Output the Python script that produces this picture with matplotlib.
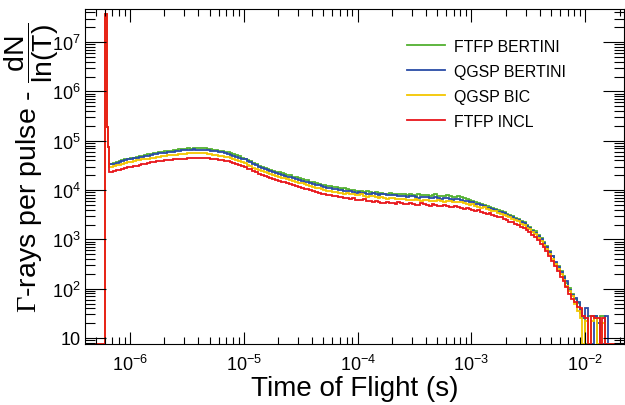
import numpy as np
import matplotlib
matplotlib.use("Agg")
import matplotlib.pyplot as plt
from matplotlib.ticker import LogLocator, FuncFormatter, NullFormatter

plt.rcParams['font.family'] = ['Liberation Sans', 'DejaVu Sans']
plt.rcParams['mathtext.fontset'] = 'custom'
plt.rcParams['mathtext.rm'] = 'Liberation Sans'
plt.rcParams['mathtext.it'] = 'Liberation Sans:italic'
plt.rcParams['mathtext.bf'] = 'Liberation Serif'

# log10 of the bin edges (seconds): a few narrow bins around the flash, then 40 bins/decade
lead_edges = [-6.45, -6.215, -6.205, -6.195, -6.18]
tail_edge = [-1.2]

labels = ['FTFP BERTINI', 'QGSP BERTINI', 'QGSP BIC', 'FTFP INCL']
colors = ['#52b030', '#2a4ca6', '#f3c600', '#e8161b']

# log10 of the counts per bin, 0 = empty bin
green_lg = [0, 7.57, 5.28, 4.87, 4.53,
    4.55, 4.57, 4.59, 4.61, 4.62, 4.64, 4.65, 4.66, 4.68, 4.69, 4.70, 4.72, 4.73, 4.74, 4.75, 4.76, 4.77, 4.78, 4.79, 4.80,
    4.80, 4.81, 4.82, 4.83, 4.83, 4.84, 4.85, 4.84, 4.86, 4.85, 4.86, 4.85, 4.85, 4.84, 4.83, 4.82, 4.82, 4.80, 4.79, 4.78,
    4.77, 4.75, 4.73, 4.71, 4.69, 4.66, 4.64, 4.61, 4.58, 4.55, 4.52, 4.49, 4.47, 4.45, 4.43, 4.41, 4.39, 4.37, 4.36, 4.34,
    4.33, 4.31, 4.30, 4.27, 4.26, 4.24, 4.23, 4.21, 4.20, 4.17, 4.16, 4.14, 4.13, 4.11, 4.10, 4.09, 4.08, 4.06, 4.06, 4.04,
    4.03, 4.04, 4.02, 4.00, 4.01, 3.99, 3.98, 3.99, 3.97, 3.98, 3.97, 3.95, 3.96, 3.94, 3.95, 3.93, 3.93, 3.94, 3.92, 3.93,
    3.91, 3.93, 3.92, 3.90, 3.91, 3.90, 3.88, 3.91, 3.90, 3.89, 3.90, 3.88, 3.89, 3.91, 3.88, 3.87, 3.87, 3.89, 3.88, 3.86,
    3.86, 3.87, 3.85, 3.83, 3.82, 3.80, 3.78, 3.76, 3.74, 3.72, 3.70, 3.67, 3.66, 3.64, 3.62, 3.59, 3.57, 3.55, 3.52, 3.49,
    3.47, 3.44, 3.42, 3.37, 3.35, 3.30, 3.26, 3.19, 3.16, 3.09, 3.03, 2.94, 2.87, 2.76, 2.66, 2.52, 2.46, 2.36, 2.25, 2.12,
    2.02, 1.90, 1.80, 1.70, 1.58, 1.45, 0, 1.45, 1.45, 1.45, 0, 1.45, 1.45, 0, 0, 0,
    0]
blue_lg = [0, 7.57, 5.28, 4.87, 4.52,
    4.53, 4.55, 4.57, 4.59, 4.60, 4.62, 4.63, 4.65, 4.66, 4.67, 4.68, 4.70, 4.70, 4.72, 4.73, 4.74, 4.75, 4.76, 4.76, 4.77,
    4.78, 4.78, 4.79, 4.80, 4.81, 4.81, 4.82, 4.82, 4.83, 4.82, 4.82, 4.81, 4.81, 4.81, 4.80, 4.79, 4.79, 4.77, 4.77, 4.75,
    4.74, 4.72, 4.70, 4.68, 4.66, 4.64, 4.62, 4.58, 4.56, 4.52, 4.50, 4.46, 4.44, 4.42, 4.40, 4.38, 4.36, 4.34, 4.32, 4.30,
    4.29, 4.27, 4.26, 4.24, 4.23, 4.21, 4.19, 4.17, 4.16, 4.14, 4.13, 4.11, 4.10, 4.08, 4.07, 4.05, 4.05, 4.03, 4.03, 4.01,
    4.01, 3.99, 3.99, 3.98, 3.97, 3.95, 3.96, 3.95, 3.94, 3.93, 3.93, 3.94, 3.92, 3.90, 3.91, 3.92, 3.90, 3.89, 3.89, 3.90,
    3.88, 3.87, 3.87, 3.85, 3.88, 3.87, 3.86, 3.84, 3.85, 3.86, 3.85, 3.83, 3.84, 3.85, 3.83, 3.82, 3.84, 3.83, 3.82, 3.80,
    3.82, 3.81, 3.79, 3.77, 3.78, 3.76, 3.75, 3.72, 3.72, 3.70, 3.67, 3.64, 3.64, 3.61, 3.59, 3.56, 3.56, 3.53, 3.50, 3.47,
    3.46, 3.42, 3.40, 3.36, 3.33, 3.27, 3.24, 3.17, 3.13, 3.06, 3.00, 2.92, 2.85, 2.74, 2.66, 2.54, 2.44, 2.33, 2.24, 2.15,
    1.97, 1.88, 1.82, 1.72, 1.50, 1.40, 1.60, 0, 0, 1.45, 1.30, 0, 0, 1.45, 0, 0,
    0]
yellow_lg = [0, 7.57, 5.28, 4.87, 4.47,
    4.48, 4.50, 4.51, 4.53, 4.54, 4.56, 4.57, 4.59, 4.60, 4.61, 4.62, 4.64, 4.64, 4.66, 4.66, 4.68, 4.68, 4.70, 4.70, 4.71,
    4.71, 4.72, 4.72, 4.73, 4.74, 4.74, 4.75, 4.75, 4.75, 4.76, 4.75, 4.75, 4.75, 4.74, 4.73, 4.72, 4.72, 4.70, 4.70, 4.68,
    4.67, 4.65, 4.63, 4.61, 4.59, 4.57, 4.55, 4.51, 4.49, 4.45, 4.43, 4.41, 4.38, 4.36, 4.34, 4.32, 4.30, 4.28, 4.27, 4.25,
    4.24, 4.22, 4.21, 4.19, 4.17, 4.15, 4.14, 4.12, 4.11, 4.09, 4.07, 4.05, 4.04, 4.02, 4.01, 3.99, 3.99, 3.97, 3.97, 3.95,
    3.95, 3.93, 3.94, 3.92, 3.91, 3.90, 3.89, 3.91, 3.88, 3.86, 3.87, 3.87, 3.86, 3.84, 3.85, 3.84, 3.82, 3.83, 3.83, 3.82,
    3.81, 3.82, 3.82, 3.80, 3.79, 3.80, 3.81, 3.79, 3.78, 3.79, 3.80, 3.78, 3.77, 3.78, 3.79, 3.77, 3.76, 3.77, 3.78, 3.76,
    3.76, 3.75, 3.75, 3.73, 3.72, 3.70, 3.71, 3.68, 3.66, 3.64, 3.65, 3.62, 3.59, 3.57, 3.57, 3.54, 3.51, 3.49, 3.48, 3.45,
    3.42, 3.39, 3.37, 3.32, 3.29, 3.24, 3.21, 3.14, 3.10, 3.03, 2.97, 2.89, 2.80, 2.70, 2.60, 2.50, 2.40, 2.30, 2.18, 2.06,
    1.95, 1.85, 1.68, 1.55, 1.40, 0, 1.35, 0, 1.35, 1.40, 0, 0, 1.30, 0, 0, 0,
    0]
red_lg = [0, 7.57, 5.28, 4.87, 4.37,
    4.38, 4.40, 4.41, 4.43, 4.44, 4.46, 4.47, 4.49, 4.49, 4.51, 4.52, 4.53, 4.54, 4.56, 4.56, 4.58, 4.58, 4.59, 4.60, 4.61,
    4.61, 4.62, 4.62, 4.63, 4.64, 4.64, 4.65, 4.65, 4.66, 4.66, 4.66, 4.65, 4.65, 4.65, 4.64, 4.63, 4.63, 4.61, 4.61, 4.59,
    4.58, 4.56, 4.55, 4.53, 4.51, 4.49, 4.47, 4.43, 4.42, 4.38, 4.36, 4.32, 4.30, 4.28, 4.26, 4.24, 4.22, 4.20, 4.19, 4.17,
    4.16, 4.14, 4.12, 4.10, 4.09, 4.07, 4.05, 4.03, 4.02, 4.00, 3.98, 3.96, 3.95, 3.93, 3.92, 3.90, 3.90, 3.88, 3.88, 3.86,
    3.86, 3.84, 3.83, 3.81, 3.83, 3.80, 3.79, 3.80, 3.81, 3.78, 3.77, 3.75, 3.78, 3.76, 3.74, 3.73, 3.76, 3.74, 3.73, 3.72,
    3.75, 3.73, 3.72, 3.71, 3.74, 3.72, 3.70, 3.69, 3.73, 3.71, 3.69, 3.68, 3.72, 3.70, 3.68, 3.67, 3.70, 3.68, 3.66, 3.65,
    3.68, 3.66, 3.64, 3.62, 3.64, 3.61, 3.60, 3.58, 3.59, 3.56, 3.54, 3.52, 3.53, 3.50, 3.47, 3.45, 3.45, 3.42, 3.39, 3.36,
    3.35, 3.32, 3.29, 3.26, 3.23, 3.18, 3.14, 3.09, 3.04, 2.98, 2.91, 2.84, 2.76, 2.67, 2.57, 2.46, 2.36, 2.24, 2.15, 2.03,
    1.90, 1.80, 1.72, 1.62, 1.60, 1.45, 1.40, 0, 1.45, 1.40, 1.40, 0, 1.40, 0, 0, 0,
    0]

edges = np.array(lead_edges + list(np.arange(-6.15, -1.745, 0.025)) + tail_edge)
tof = 10 ** edges

xmin, xmax = 10 ** -6.395, 10 ** -1.66
ymin, ymax = 7.55, 4.7e7

fig = plt.figure(figsize=(6.25, 4.06), dpi=100)
ax = fig.add_axes([85 / 625, 1 - 345 / 406, 539 / 625, 335 / 406])

for lg, c, lab in zip([green_lg, blue_lg, yellow_lg, red_lg], colors, labels):
    lg = np.array(lg, dtype=float)
    counts = np.where(lg > 0, 10 ** lg, ymin)
    ax.stairs(counts, tof, baseline=None, color=c, lw=1.3, label=lab)

ax.set_xscale('log')
ax.set_yscale('log')
ax.set_xlim(xmin, xmax)
ax.set_ylim(ymin, ymax)


def pow_label(v, pos):
    e = int(round(np.log10(v)))
    if e == 1:
        return '10'
    return r'$10^{%d}$' % e


for axis in [ax.xaxis, ax.yaxis]:
    axis.set_major_locator(LogLocator(base=10, subs=(1.0,), numticks=20))
    axis.set_minor_locator(LogLocator(base=10, subs=np.arange(2, 10), numticks=20))
    axis.set_major_formatter(FuncFormatter(pow_label))
    axis.set_minor_formatter(NullFormatter())

ax.tick_params(which='both', direction='in', top=True, right=True, width=0.8, labelsize=13)
ax.tick_params(axis='x', which='major', length=9, pad=7)
ax.tick_params(axis='x', which='minor', length=5)
ax.tick_params(axis='y', which='major', length=15, pad=3)
ax.tick_params(axis='y', which='minor', length=7)
for s in ax.spines.values():
    s.set_linewidth(0.8)

ax.set_xlabel('Time of Flight (s)', fontsize=20, labelpad=1)
ax.set_ylabel(r'$\mathbf{\Gamma}$-rays per pulse - $\dfrac{\mathrm{dN}}{\mathrm{ln(T)}}$', fontsize=20.5)
ax.yaxis.set_label_coords(-0.045, 0.531)

ax.legend(loc='upper left', bbox_to_anchor=(407 / 625, 1 - 40 / 406), bbox_transform=fig.transFigure,
          frameon=False, fontsize=11.4, handlelength=2.4, handletextpad=0.55, labelspacing=0.63,
          borderpad=0, borderaxespad=0)

fig.savefig('out.png', dpi=100)
